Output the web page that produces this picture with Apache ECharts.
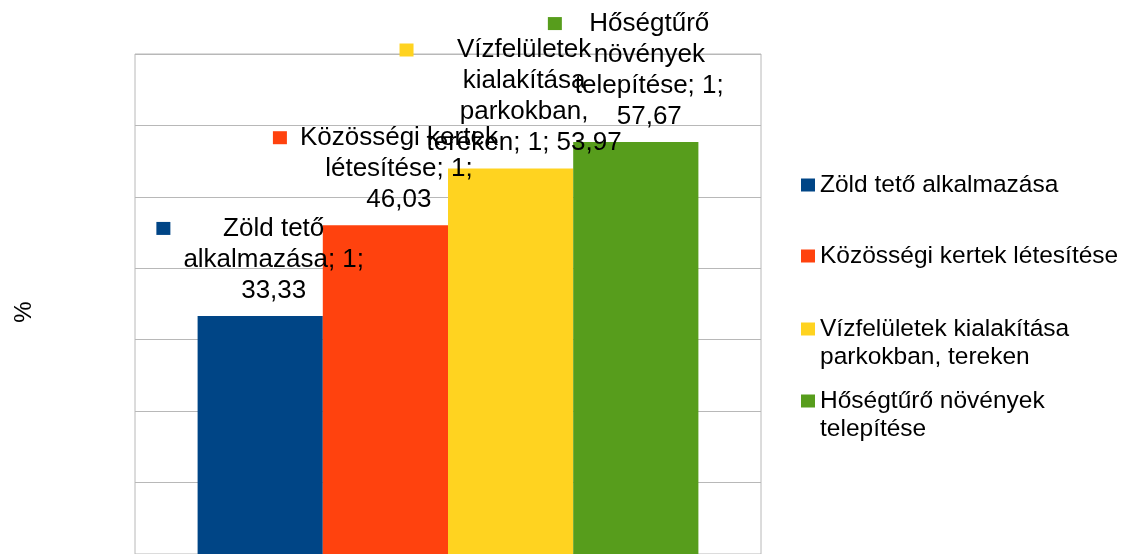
<!DOCTYPE html>
<html>
<head>
<meta charset="utf-8">
<script src="https://cdn.jsdelivr.net/npm/echarts@6/dist/echarts.min.js"></script>
<style>
  html, body { margin: 0; padding: 0; background: #fff; }
  #chart { width: 1123px; height: 554px; }
</style>
</head>
<body>
<div id="chart"></div>
<script>
const categories = ['1']
const seriesNames = [
  'Zöld tető alkalmazása',
  'Közösségi kertek létesítése',
  'Vízfelületek kialakítása parkokban, tereken',
  'Hőségtűrő növények telepítése'
]
const seriesValues = [33.33, 46.03, 53.97, 57.67]
const seriesColors = ['#004586', '#ff420e', '#ffd320', '#579d1c']
const yMin = 0
const yMax = 70
const yStep = 10

const FONT = "'Liberation Sans', Arial, sans-serif"

// greedy word wrap, like the office chart does
const measureCtx = document.createElement('canvas').getContext('2d')
function wrap(text, size, maxWidth) {
  measureCtx.font = size + 'px ' + FONT
  const words = text.split(' ')
  const lines = []
  let cur = ''
  words.forEach(w => {
    const next = cur ? cur + ' ' + w : w
    if (cur && measureCtx.measureText(next).width > maxWidth) {
      lines.push(cur)
      cur = w
    } else {
      cur = next
    }
  })
  if (cur) lines.push(cur)
  return lines
}

function fmtNum(v) {
  return v.toFixed(2).replace('.', ',')
}

const chart = echarts.init(document.getElementById('chart'))

const series = seriesNames.map((name, i) => ({
  name,
  type: 'bar',
  data: [seriesValues[i]],
  barGap: 0,
  barCategoryGap: '20%',
  itemStyle: { color: seriesColors[i] },
  label: {
    show: true,
    position: 'top',
    distance: 10,
    fontFamily: FONT,
    fontSize: 26,
    lineHeight: 31,
    color: '#000',
    formatter: (p) => {
      const text = p.seriesName + '; ' + p.name + '; ' + fmtNum(p.value)
      const lines = wrap(text, 26, 208)
      return lines.map((l, k) => k === 0
        ? '{sq|}{gap|}{t|' + l + '}'
        : '{sp|}{t|' + l + '}').join('\n')
    },
    rich: {
      sq: { width: 14, height: 13, backgroundColor: seriesColors[i], align: 'left' },
      gap: { width: 13, height: 13, align: 'left' },
      sp: { width: 27, height: 13, align: 'left' },
      t: { fontFamily: FONT, fontSize: 26, lineHeight: 31, color: '#000', align: 'center' }
    }
  }
}))

// one legend per entry so the spacing stays even like the original
const legendTops = [171, 242, 287, 359]
const legends = seriesNames.map((name, i) => ({
  data: [name],
  orient: 'vertical',
  left: 801,
  top: legendTops[i],
  padding: 0,
  icon: 'rect',
  itemWidth: 14,
  itemHeight: 13,
  selectedMode: false,
  textStyle: { fontFamily: FONT, fontSize: 24.5, lineHeight: 28, color: '#000' },
  formatter: (n) => {
    const lines = wrap(n, 24.5, 315)
    return lines.length > 1 ? '\n' + lines.join('\n') : lines[0]
  }
}))

const option = {
  animation: false,
  backgroundColor: '#fff',
  legend: legends,
  grid: {
    left: 135,
    right: 362,
    top: 54,
    height: 502.8,
    show: true,
    borderColor: '#b8b8b8',
    borderWidth: 1,
    containLabel: false
  },
  xAxis: {
    type: 'category',
    data: categories,
    axisLine: { show: false },
    axisTick: { show: false },
    axisLabel: { show: false }
  },
  yAxis: {
    type: 'value',
    min: yMin,
    max: yMax,
    interval: yStep,
    name: '%',
    nameLocation: 'middle',
    nameGap: 99,
    nameTextStyle: { fontFamily: FONT, fontSize: 24, color: '#000', padding: [0, 16, 0, 0] },
    axisLine: { show: false },
    axisTick: { show: false },
    axisLabel: { show: false },
    splitLine: { lineStyle: { color: '#b8b8b8', width: 1 } }
  },
  series
}

chart.setOption(option)
</script>
</body>
</html>
